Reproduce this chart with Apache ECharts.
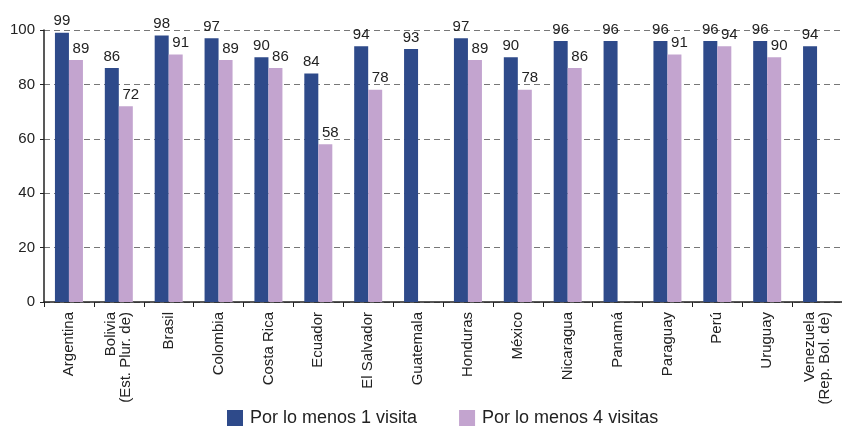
<!DOCTYPE html>
<html>
<head>
<meta charset="utf-8">
<script src="https://cdn.jsdelivr.net/npm/echarts@6/dist/echarts.min.js"></script>
<style>
  html, body { margin: 0; padding: 0; background: #fff; }
  #chart { width: 842px; height: 428px; }
</style>
</head>
<body>
<div id="chart"></div>
<script>
var countries = ['Argentina', 'Bolivia\n(Est. Plur. de)', 'Brasil', 'Colombia', 'Costa Rica', 'Ecuador',
  'El Salvador', 'Guatemala', 'Honduras', 'México', 'Nicaragua', 'Panamá', 'Paraguay', 'Perú',
  'Uruguay', 'Venezuela\n(Rep. Bol. de)'];
var unaVisita = [99, 86, 98, 97, 90, 84, 94, 93, 97, 90, 96, 96, 96, 96, 96, 94];
var cuatroVisitas = [89, 72, 91, 89, 86, 58, 78, null, 89, 78, 86, null, 91, 94, 90, null];
var seriesNames = ['Por lo menos 1 visita', 'Por lo menos 4 visitas'];

var font = 'Arial, "Liberation Sans", sans-serif';
var chart = echarts.init(document.getElementById('chart'));

function barSeries(name, data, color, labelShift) {
  return {
    name: name,
    type: 'bar',
    data: data,
    barWidth: 14,
    barGap: '0%',
    itemStyle: { color: color },
    label: {
      show: true,
      position: 'top',
      distance: 4,
      offset: [labelShift, 0],
      color: '#222',
      fontSize: 15,
      fontFamily: font
    }
  };
}

chart.setOption({
  animation: false,
  grid: { left: 44, right: 0, top: 30, bottom: 126 },
  legend: {
    bottom: 1,
    left: 227,
    padding: 0,
    itemWidth: 16,
    itemHeight: 16,
    itemGap: 42,
    icon: 'rect',
    textStyle: { fontSize: 18, color: '#222', fontFamily: font, padding: [0, 0, 0, 2] },
    data: seriesNames
  },
  xAxis: {
    type: 'category',
    data: countries,
    axisLine: { lineStyle: { color: '#222', width: 1.5 } },
    axisTick: { show: true, length: 5, lineStyle: { color: '#222' } },
    axisLabel: {
      rotate: 90,
      interval: 0,
      margin: 10,
      fontSize: 15,
      lineHeight: 15,
      color: '#222',
      fontFamily: font,
      align: 'right'
    }
  },
  yAxis: {
    type: 'value',
    min: 0,
    max: 100,
    interval: 20,
    axisLine: { show: true, lineStyle: { color: '#222', width: 1.5 } },
    axisTick: { show: true, length: 4, lineStyle: { color: '#222' } },
    axisLabel: { fontSize: 15, color: '#222', fontFamily: font, margin: 9 },
    splitLine: { lineStyle: { color: '#777', type: [6, 4], width: 1 } }
  },
  series: [
    barSeries(seriesNames[0], unaVisita, '#2e4a8a', 0),
    barSeries(seriesNames[1], cuatroVisitas, '#c3a4cf', 5)
  ]
});
</script>
</body>
</html>
